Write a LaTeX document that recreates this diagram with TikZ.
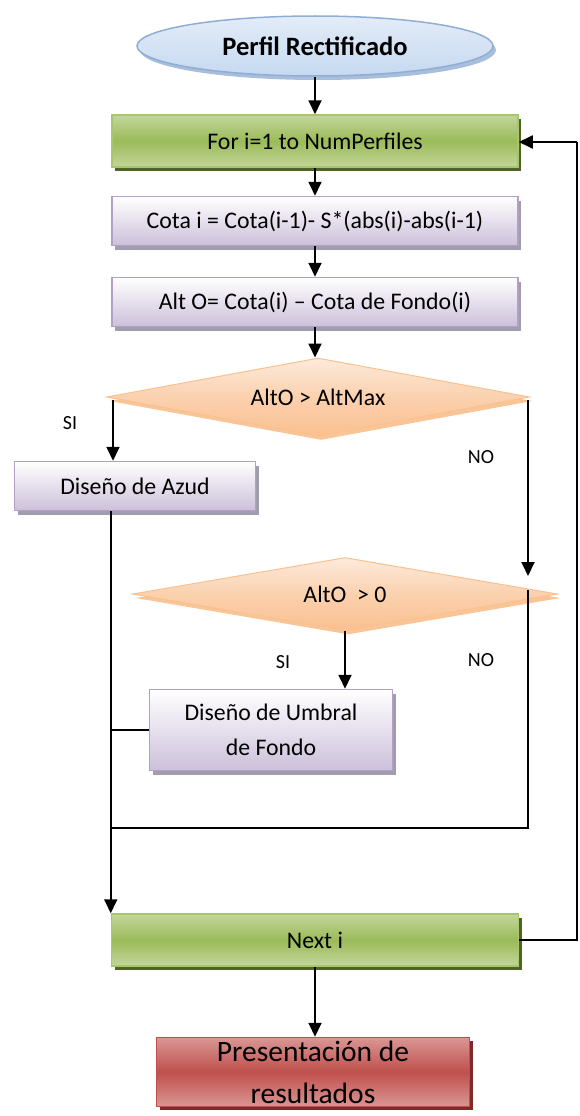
\documentclass[tikz,border=0pt]{standalone}
\usepackage{fontspec}
\setmainfont{Carlito}
\usetikzlibrary{shapes.geometric,shadows,arrows.meta,calc}
\definecolor{bluefill}{HTML}{C6D9F1}
\definecolor{bluetop}{HTML}{E4ECF7}
\definecolor{blueedge}{HTML}{8EAED6}
\definecolor{blueshadow}{HTML}{A9BEDA}
\definecolor{greenmid}{HTML}{9BBB59}
\definecolor{greenlight}{HTML}{C3D69B}
\definecolor{greenedge}{HTML}{A8C66C}
\definecolor{greenshadow}{HTML}{4F6228}
\definecolor{purpbot}{HTML}{CCC0DA}
\definecolor{purpedge}{HTML}{B2A1C7}
\definecolor{purpshadow}{HTML}{A29DAE}
\definecolor{orangetop}{HTML}{FDEADA}
\definecolor{orangemid}{HTML}{FBD1AE}
\definecolor{orangeedge}{HTML}{FAC090}
\definecolor{orangeshadow}{HTML}{F9C496}
\definecolor{redlight}{HTML}{D99694}
\definecolor{redmid}{HTML}{C0504D}
\definecolor{redshadow}{HTML}{7F2A28}
\tikzset{
  txt/.style={font=\fontsize{23.8}{35}\selectfont, align=center, inner sep=0pt},
  lbl/.style={font=\fontsize{20}{22}\selectfont, inner sep=0pt},
  greenbox/.style={txt, rectangle, draw=greenedge, line width=1.5pt, top color=greenlight, bottom color=greenlight, middle color=greenmid,
    drop shadow={shadow xshift=3pt, shadow yshift=-4pt, fill=greenshadow, opacity=1}},
  purpbox/.style={txt, rectangle, draw=purpedge, line width=1.5pt, top color=white, bottom color=purpbot,
    drop shadow={shadow xshift=3pt, shadow yshift=-4pt, fill=purpshadow, opacity=1}},
  decbox/.style={txt, diamond, shape aspect=5.4, draw=orangeedge, line width=1pt, top color=orangetop, bottom color=orangeedge, middle color=orangemid,
    drop shadow={shadow xshift=3pt, shadow yshift=-4pt, fill=orangeshadow, opacity=1}},
  arr/.style={-{Triangle[width=13pt,length=14pt]}, line width=1.8pt},
  ln/.style={line width=1.5pt},
}
\begin{document}
\begin{tikzpicture}[x=1pt,y=-1pt]
\useasboundingbox (0,0) rectangle (579,1116);
\node[ellipse, draw=blueedge, line width=1.5pt, top color=bluetop, bottom color=bluefill, minimum width=356pt, minimum height=60pt,
  drop shadow={shadow xshift=3pt, shadow yshift=-4pt, fill=blueshadow, opacity=1},
  font=\bfseries\fontsize{26.5}{30}\selectfont] (start) at (315,46) {Perfil Rectificado};
\node[greenbox, minimum width=406pt, minimum height=52pt] (for) at (315,141) {For i=1 to NumPerfiles};
\node[purpbox, minimum width=406pt, minimum height=49pt] (cota) at (315,221) {Cota i = Cota(i-1)- S*(abs(i)-abs(i-1)};
\node[purpbox, minimum width=406pt, minimum height=49pt] (alt) at (315,302) {Alt O= Cota(i) -- Cota de Fondo(i)};
\node[decbox, minimum width=423pt, minimum height=78pt] (d1) at (318,397) {AltO > AltMax};
\node[purpbox, minimum width=241pt, minimum height=49pt] (azud) at (135,486) {Diseño de Azud};
\node[decbox, minimum width=425pt, minimum height=73pt] (d2) at (345,594) {AltO~~> 0};
\node[purpbox, minimum width=243pt, minimum height=81pt] (umbral) at (271,730) {Diseño de Umbral\\de Fondo};
\node[greenbox, minimum width=407pt, minimum height=52pt] (next) at (315,940) {Next i};
\node[txt, rectangle, draw=redmid, line width=1.5pt, top color=redlight, bottom color=redlight, middle color=redmid,
  minimum width=313pt, minimum height=69pt, font=\fontsize{29.5}{42}\selectfont,
  drop shadow={shadow xshift=3pt, shadow yshift=-3pt, fill=redshadow, opacity=1}] (pres) at (313,1072) {Presentación de\\resultados};

\node[lbl] (si1) at (70,423) {SI};
\node[lbl] (no1) at (481,457) {NO};
\node[lbl] (si2) at (283,662) {SI};
\node[lbl] (no2) at (481,660) {NO};

\coordinate (siA) at (113,400);
\coordinate (noA) at (528,400);
\coordinate (noAend) at (528,576);
\coordinate (noB) at (528,590);
\coordinate (noBc) at (528,828);
\coordinate (loopR) at (577,940);
\coordinate (loopT) at (577,142);

\draw[arr] (start.south) -- (for.north);
\draw[arr] (for.south) -- (cota.north);
\draw[arr] (cota.south) -- (alt.north);
\draw[arr] (alt.south) -- (alt.south |- d1.north);
\draw[arr] (siA) -- (siA |- azud.north);
\draw[arr] (noA) -- (noAend);
\draw[ln] (noB) -- (noBc) -- (noBc -| next.west);
\draw[arr] (d2.south) -- (d2.south |- umbral.north);
\draw[ln] (umbral.west) -- (umbral.west -| next.west);
\draw[arr] (azud.south -| next.west) -- (next.north west);
\draw[ln] (next.east) -- (loopR) -- (loopT);
\draw[arr] (loopT) -- (loopT -| for.east);
\draw[arr] (next.south) -- (next.south |- pres.north);
\end{tikzpicture}
\end{document}
